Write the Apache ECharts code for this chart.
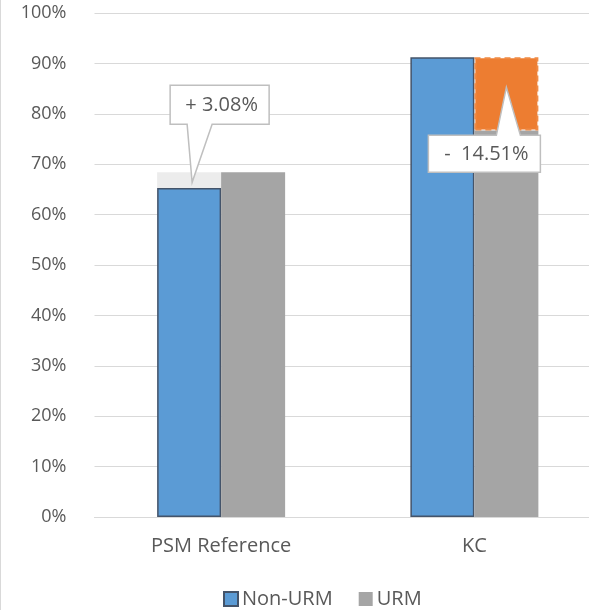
<!DOCTYPE html>
<html>
<head>
<meta charset="utf-8">
<script src="https://cdn.jsdelivr.net/npm/echarts@6/dist/echarts.min.js"></script>
<style>
  html, body { margin: 0; padding: 0; background: #fff; overflow: hidden; }
  /* the plot area runs a little past the right edge of the page */
  #chart { width: 601px; height: 610px; }
</style>
</head>
<body>
<div id="chart"></div>
<script>
// Completion rates by group
const categories = ['PSM Reference', 'KC'];
const nonUrm = [65.30, 91.20];
const urm = [68.38, 76.69];
// Gap between the two groups, drawn as a segment on top of the lower bar
const gapPsm = [3.08, '-'];
const gapKc = ['-', 14.51];
const gapLabels = ['+ ' + gapPsm[0].toFixed(2) + '%', '-  ' + gapKc[1].toFixed(2) + '%'];
const yTicks = [0, 10, 20, 30, 40, 50, 60, 70, 80, 90, 100];

const FONT = '"Open Sans", "Noto Sans", sans-serif';
const TEXT = '#595959';

const chart = echarts.init(document.getElementById('chart'), null, { renderer: 'canvas' });

const option = {
  animation: false,
  textStyle: { fontFamily: FONT },
  grid: { left: 94.5, top: 13, right: 0, height: 504, containLabel: false },
  legend: {
    left: 218, top: 584,
    itemWidth: 14, itemHeight: 14, itemGap: 26,
    icon: 'rect',
    textStyle: { color: TEXT, fontSize: 20, fontFamily: FONT, padding: [0, 0, 0, -1] },
    data: ['Non-URM', 'URM']
  },
  xAxis: {
    type: 'category',
    data: categories,
    axisLine: { lineStyle: { color: '#d9d9d9', width: 1 } },
    axisTick: { show: false },
    axisLabel: { color: TEXT, fontSize: 20, fontFamily: FONT, margin: 19 }
  },
  yAxis: {
    type: 'value',
    min: yTicks[0], max: yTicks[yTicks.length - 1], interval: 10,
    axisLine: { show: false },
    axisTick: { show: false },
    splitLine: { lineStyle: { color: '#d9d9d9', width: 1 } },
    axisLabel: { color: TEXT, fontSize: 18, fontFamily: FONT, margin: 28, formatter: v => v + '%' }
  },
  series: [
    {
      name: 'Non-URM', type: 'bar', stack: 'left', barWidth: 64, barGap: '0%',
      data: nonUrm,
      itemStyle: { color: '#5b9bd5', borderColor: '#44546a', borderWidth: 1.5 }
    },
    {
      name: 'gapPsm', type: 'bar', stack: 'left', barWidth: 64,
      data: gapPsm,
      itemStyle: { color: '#ececec' }
    },
    {
      name: 'URM', type: 'bar', stack: 'right', barWidth: 64,
      data: urm,
      itemStyle: { color: '#a5a5a5' }
    },
    {
      name: 'gapKc', type: 'bar', stack: 'right', barWidth: 64,
      data: gapKc,
      itemStyle: { color: '#ed7d31', borderColor: '#f08a44', borderWidth: 2, borderType: [6, 4] }
    }
  ]
};
chart.setOption(option);

// Callout boxes pointing at the gap segments
function callout(tip, box, baseL, baseR, pointerDown, text) {
  const [l, t, r, b] = box;
  const pts = pointerDown
    ? [[l, t], [r, t], [r, b], [baseR, b], tip, [baseL, b], [l, b]]
    : [[l, t], [baseL, t], tip, [baseR, t], [r, t], [r, b], [l, b]];
  return [
    {
      type: 'polygon', z: 100,
      shape: { points: pts },
      style: { fill: '#fff', stroke: '#bfbfbf', lineWidth: 1.5 }
    },
    {
      type: 'text', z: 101,
      x: (l + r) / 2 + 2, y: (t + b) / 2,
      style: { text: text, fill: TEXT, font: '20px ' + FONT, align: 'center', verticalAlign: 'middle' }
    }
  ];
}

const p0 = chart.convertToPixel({ seriesIndex: 0 }, [0, nonUrm[0] + gapPsm[0]]);
const p1 = chart.convertToPixel({ seriesIndex: 0 }, [1, nonUrm[1]]);
const tip0 = [p0[0] - 29, p0[1] + 10];
const tip1 = [p1[0] + 32, p1[1] + 30];

const elements = [].concat(
  callout(tip0, [tip0[0] - 22, tip0[1] - 97, tip0[0] + 77, tip0[1] - 58], tip0[0] - 5, tip0[0] + 20, true, gapLabels[0]),
  callout(tip1, [tip1[0] - 78, tip1[1] + 48, tip1[0] + 34, tip1[1] + 85], tip1[0] - 10, tip1[0] + 14, false, gapLabels[1]),
  [{
    type: 'line', z: 50,
    shape: { x1: 0.5, y1: 0, x2: 0.5, y2: 610 },
    style: { stroke: '#d9d9d9', lineWidth: 1 }
  }]
);
chart.setOption({ graphic: { elements: elements } });
</script>
</body>
</html>
